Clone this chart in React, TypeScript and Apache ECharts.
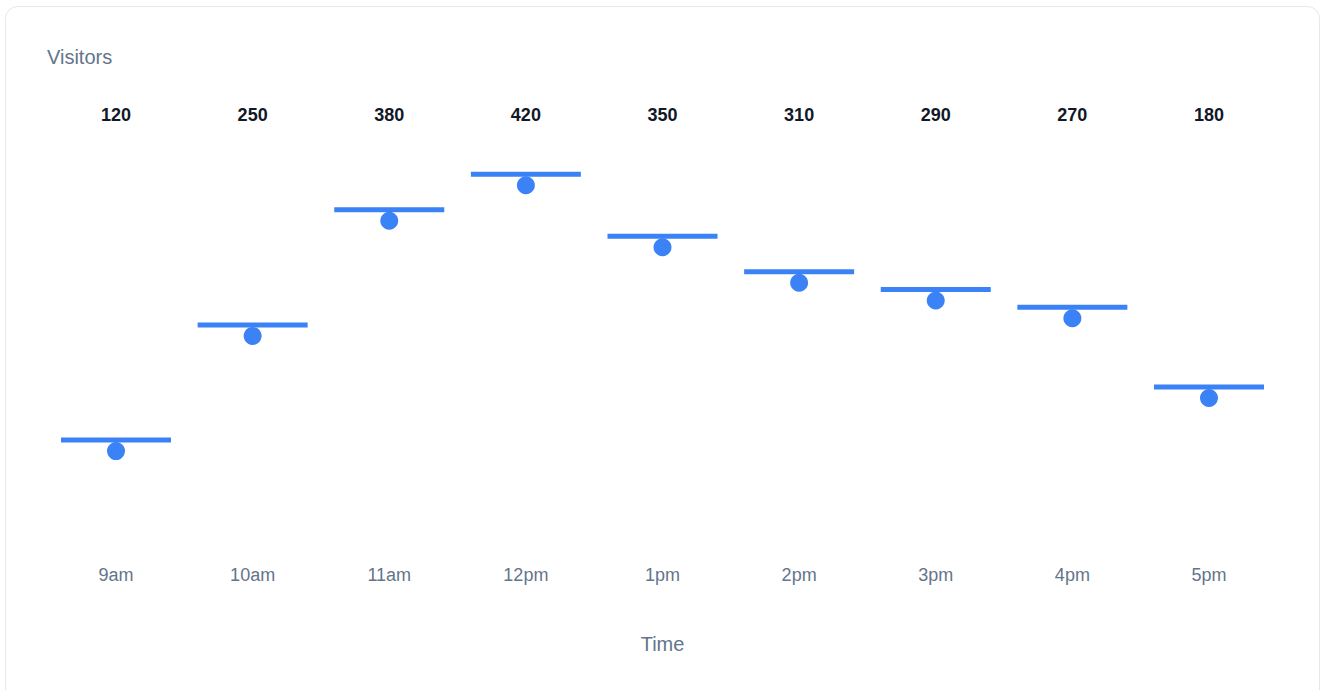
import React, { useEffect, useRef } from "react";
import * as echarts from "echarts";

const categories = ["9am", "10am", "11am", "12pm", "1pm", "2pm", "3pm", "4pm", "5pm"];
const visitors = [120, 250, 380, 420, 350, 310, 290, 270, 180];
const titleText = "Visitors";
const xAxisName = "Time";

const FONT = '"Liberation Sans", Arial, Helvetica, sans-serif';

export default function App() {
  const ref = useRef<HTMLDivElement>(null);
  useEffect(() => {
    if (!ref.current) return;
    const chart = echarts.init(ref.current, undefined, { renderer: "svg" });
    chart.setOption({
      animation: false,
      textStyle: { fontFamily: FONT },
      graphic: [
        {
          type: "rect",
          z: -10,
          shape: { x: 5.5, y: 6.5, width: 1314, height: 700, r: 12 },
          style: { fill: "#ffffff", stroke: "#e5e7eb", lineWidth: 1 },
        },
        {
          type: "text",
          left: 47,
          top: 47,
          style: { text: titleText, fontSize: 20, fill: "#64748b", fontFamily: FONT },
        },
      ],
      grid: { left: 47.7, right: 45.7, top: 130, bottom: 143.6 },
      xAxis: [
        {
          type: "category",
          data: categories,
          position: "bottom",
          axisLine: { show: false },
          axisTick: { show: false },
          splitLine: { show: false },
          axisLabel: { margin: 20, fontSize: 18, color: "#64748b", fontFamily: FONT },
          name: xAxisName,
          nameLocation: "middle",
          nameGap: 88,
          nameTextStyle: { fontSize: 20, color: "#64748b", fontFamily: FONT },
        },
        {
          type: "category",
          data: visitors.map(String),
          position: "top",
          axisLine: { show: false },
          axisTick: { show: false },
          splitLine: { show: false },
          axisLabel: { margin: 6, fontSize: 18, fontWeight: "bold", color: "#111827", fontFamily: FONT },
        },
      ],
      yAxis: { type: "value", min: 0, max: 470, show: false },
      series: [
        {
          type: "scatter",
          data: visitors,
          symbol: "rect",
          symbolSize: [110, 5],
          itemStyle: { color: "#3b82f6", opacity: 1 },
          z: 2,
        },
        {
          type: "scatter",
          data: visitors,
          symbol: "circle",
          symbolSize: 18,
          symbolOffset: [0, 11],
          itemStyle: { color: "#3b82f6", opacity: 1 },
          z: 3,
        },
      ],
    });
    return () => chart.dispose();
  }, []);
  return (
    <div
      ref={ref}
      style={{ position: "absolute", left: 0, top: 0, width: 1323, height: 690 }}
    />
  );
}
